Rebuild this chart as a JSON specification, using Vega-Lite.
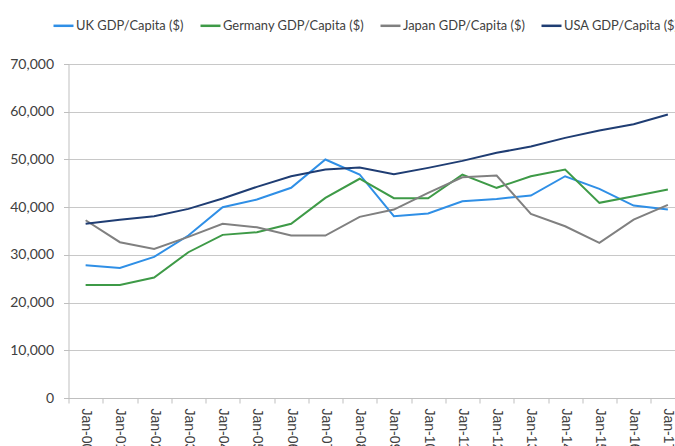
{
  "$schema": "https://vega.github.io/schema/vega-lite/v6.json",
  "autosize": {"type": "none"},
  "padding": {"left": 68.5, "top": 64, "right": 0, "bottom": 60},
  "width": 616.5,
  "height": 334,
  "background": "white",
  "config": {"view": {"stroke": null}},
  "data": {"values": [
    {"d": "Jan-00", "s": "UK GDP/Capita ($)", "v": 27820},
    {"d": "Jan-01", "s": "UK GDP/Capita ($)", "v": 27270},
    {"d": "Jan-02", "s": "UK GDP/Capita ($)", "v": 29580},
    {"d": "Jan-03", "s": "UK GDP/Capita ($)", "v": 34050},
    {"d": "Jan-04", "s": "UK GDP/Capita ($)", "v": 39980},
    {"d": "Jan-05", "s": "UK GDP/Capita ($)", "v": 41590},
    {"d": "Jan-06", "s": "UK GDP/Capita ($)", "v": 44050},
    {"d": "Jan-07", "s": "UK GDP/Capita ($)", "v": 49980},
    {"d": "Jan-08", "s": "UK GDP/Capita ($)", "v": 46850},
    {"d": "Jan-09", "s": "UK GDP/Capita ($)", "v": 38100},
    {"d": "Jan-10", "s": "UK GDP/Capita ($)", "v": 38660},
    {"d": "Jan-11", "s": "UK GDP/Capita ($)", "v": 41240},
    {"d": "Jan-12", "s": "UK GDP/Capita ($)", "v": 41730},
    {"d": "Jan-13", "s": "UK GDP/Capita ($)", "v": 42430},
    {"d": "Jan-14", "s": "UK GDP/Capita ($)", "v": 46480},
    {"d": "Jan-15", "s": "UK GDP/Capita ($)", "v": 43830},
    {"d": "Jan-16", "s": "UK GDP/Capita ($)", "v": 40330},
    {"d": "Jan-17", "s": "UK GDP/Capita ($)", "v": 39500},
    {"d": "Jan-00", "s": "Germany GDP/Capita ($)", "v": 23700},
    {"d": "Jan-01", "s": "Germany GDP/Capita ($)", "v": 23680},
    {"d": "Jan-02", "s": "Germany GDP/Capita ($)", "v": 25240},
    {"d": "Jan-03", "s": "Germany GDP/Capita ($)", "v": 30550},
    {"d": "Jan-04", "s": "Germany GDP/Capita ($)", "v": 34190},
    {"d": "Jan-05", "s": "Germany GDP/Capita ($)", "v": 34740},
    {"d": "Jan-06", "s": "Germany GDP/Capita ($)", "v": 36500},
    {"d": "Jan-07", "s": "Germany GDP/Capita ($)", "v": 41950},
    {"d": "Jan-08", "s": "Germany GDP/Capita ($)", "v": 45950},
    {"d": "Jan-09", "s": "Germany GDP/Capita ($)", "v": 41870},
    {"d": "Jan-10", "s": "Germany GDP/Capita ($)", "v": 41870},
    {"d": "Jan-11", "s": "Germany GDP/Capita ($)", "v": 46830},
    {"d": "Jan-12", "s": "Germany GDP/Capita ($)", "v": 44050},
    {"d": "Jan-13", "s": "Germany GDP/Capita ($)", "v": 46480},
    {"d": "Jan-14", "s": "Germany GDP/Capita ($)", "v": 47880},
    {"d": "Jan-15", "s": "Germany GDP/Capita ($)", "v": 40900},
    {"d": "Jan-16", "s": "Germany GDP/Capita ($)", "v": 42290},
    {"d": "Jan-17", "s": "Germany GDP/Capita ($)", "v": 43690},
    {"d": "Jan-00", "s": "Japan GDP/Capita ($)", "v": 37260},
    {"d": "Jan-01", "s": "Japan GDP/Capita ($)", "v": 32650},
    {"d": "Jan-02", "s": "Japan GDP/Capita ($)", "v": 31250},
    {"d": "Jan-03", "s": "Japan GDP/Capita ($)", "v": 33770},
    {"d": "Jan-04", "s": "Japan GDP/Capita ($)", "v": 36500},
    {"d": "Jan-05", "s": "Japan GDP/Capita ($)", "v": 35790},
    {"d": "Jan-06", "s": "Japan GDP/Capita ($)", "v": 34050},
    {"d": "Jan-07", "s": "Japan GDP/Capita ($)", "v": 34050},
    {"d": "Jan-08", "s": "Japan GDP/Capita ($)", "v": 37960},
    {"d": "Jan-09", "s": "Japan GDP/Capita ($)", "v": 39500},
    {"d": "Jan-10", "s": "Japan GDP/Capita ($)", "v": 43000},
    {"d": "Jan-11", "s": "Japan GDP/Capita ($)", "v": 46270},
    {"d": "Jan-12", "s": "Japan GDP/Capita ($)", "v": 46620},
    {"d": "Jan-13", "s": "Japan GDP/Capita ($)", "v": 38590},
    {"d": "Jan-14", "s": "Japan GDP/Capita ($)", "v": 36000},
    {"d": "Jan-15", "s": "Japan GDP/Capita ($)", "v": 32510},
    {"d": "Jan-16", "s": "Japan GDP/Capita ($)", "v": 37400},
    {"d": "Jan-17", "s": "Japan GDP/Capita ($)", "v": 40480},
    {"d": "Jan-00", "s": "USA GDP/Capita ($)", "v": 36500},
    {"d": "Jan-01", "s": "USA GDP/Capita ($)", "v": 37340},
    {"d": "Jan-02", "s": "USA GDP/Capita ($)", "v": 38100},
    {"d": "Jan-03", "s": "USA GDP/Capita ($)", "v": 39640},
    {"d": "Jan-04", "s": "USA GDP/Capita ($)", "v": 41800},
    {"d": "Jan-05", "s": "USA GDP/Capita ($)", "v": 44250},
    {"d": "Jan-06", "s": "USA GDP/Capita ($)", "v": 46480},
    {"d": "Jan-07", "s": "USA GDP/Capita ($)", "v": 47880},
    {"d": "Jan-08", "s": "USA GDP/Capita ($)", "v": 48300},
    {"d": "Jan-09", "s": "USA GDP/Capita ($)", "v": 46900},
    {"d": "Jan-10", "s": "USA GDP/Capita ($)", "v": 48230},
    {"d": "Jan-11", "s": "USA GDP/Capita ($)", "v": 49700},
    {"d": "Jan-12", "s": "USA GDP/Capita ($)", "v": 51380},
    {"d": "Jan-13", "s": "USA GDP/Capita ($)", "v": 52700},
    {"d": "Jan-14", "s": "USA GDP/Capita ($)", "v": 54520},
    {"d": "Jan-15", "s": "USA GDP/Capita ($)", "v": 56060},
    {"d": "Jan-16", "s": "USA GDP/Capita ($)", "v": 57380},
    {"d": "Jan-17", "s": "USA GDP/Capita ($)", "v": 59410}
  ]},
  "mark": {"type": "line", "strokeWidth": 2},
  "encoding": {
    "x": {
      "field": "d", "type": "ordinal", "sort": null,
      "scale": {"type": "band", "paddingInner": 0, "paddingOuter": 0},
      "axis": {
        "title": null, "labelAngle": 90, "labelAlign": "left", "labelBaseline": "middle",
        "labelFont": "Liberation Sans", "labelFontSize": 14, "labelColor": "#404040",
        "labelPadding": 5, "tickSize": 5, "tickColor": "#BFBFBF", "domainColor": "#BFBFBF",
        "tickBand": "extent", "grid": false, "labelOverlap": false
      }
    },
    "y": {
      "field": "v", "type": "quantitative",
      "scale": {"domain": [0, 70000], "nice": false},
      "axis": {
        "title": null, "values": [0, 10000, 20000, 30000, 40000, 50000, 60000, 70000],
        "format": ",d", "labelFont": "Lato", "labelFontSize": 14, "labelColor": "#404040",
        "labelPadding": 10, "tickSize": 5, "tickColor": "#BFBFBF", "domainColor": "#BFBFBF",
        "gridColor": "#C8C8C8", "gridWidth": 1
      }
    },
    "color": {
      "field": "s", "type": "nominal",
      "sort": ["UK GDP/Capita ($)", "Germany GDP/Capita ($)", "Japan GDP/Capita ($)", "USA GDP/Capita ($)"],
      "scale": {
        "domain": ["UK GDP/Capita ($)", "Germany GDP/Capita ($)", "Japan GDP/Capita ($)", "USA GDP/Capita ($)"],
        "range": ["#2F8FE6", "#3E9A47", "#808080", "#1F3D73"]
      },
      "legend": {
        "title": null, "orient": "none", "direction": "horizontal", "columns": 4,
        "legendX": -16.5, "legendY": -50,
        "symbolType": "stroke", "symbolSize": 400, "symbolStrokeWidth": 2.5,
        "labelFont": "Lato", "labelFontSize": 12.9, "labelColor": "#404040",
        "labelOffset": 1, "columnPadding": 11
      }
    }
  }
}
